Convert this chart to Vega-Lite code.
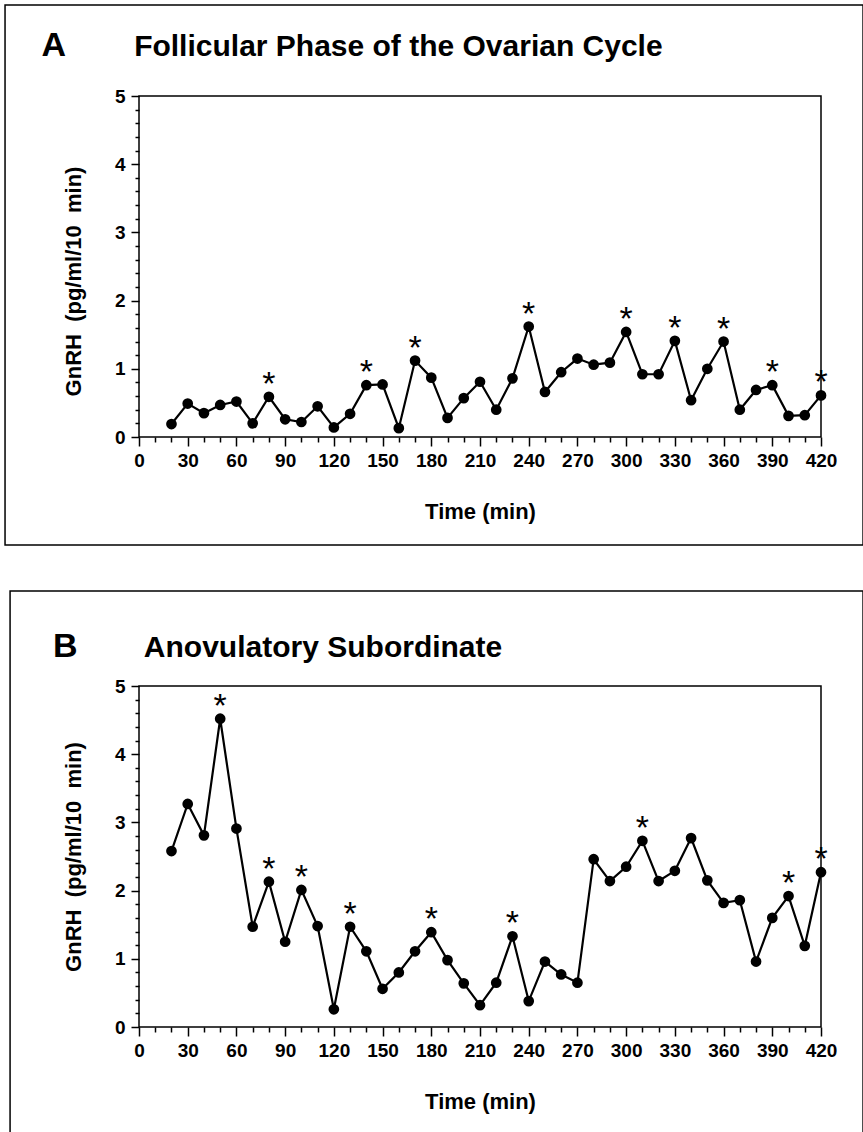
{
  "$schema": "https://vega.github.io/schema/vega-lite/v6.json",
  "padding": {"left": 3, "top": 3, "right": 0, "bottom": 0},
  "spacing": 42,
  "config": {
    "font": "Liberation Sans",
    "view": {"stroke": "black", "strokeWidth": 1.5},
    "axis": {
      "grid": false, "domain": false, "labelFlush": false, "labelOverlap": false,
      "labelFont": "Liberation Sans", "labelFontWeight": "bold", "labelColor": "black", "labelFontSize": 19,
      "titleFont": "Liberation Sans", "titleFontWeight": "bold", "titleColor": "black", "titleFontSize": 22,
      "tickColor": "black", "tickWidth": 1.5
    }
  },
  "datasets": {
    "follicular": [
      {"t": 20, "v": 0.19, "s": 0}, {"t": 30, "v": 0.49, "s": 0}, {"t": 40, "v": 0.35, "s": 0},
      {"t": 50, "v": 0.47, "s": 0}, {"t": 60, "v": 0.52, "s": 0}, {"t": 70, "v": 0.20, "s": 0},
      {"t": 80, "v": 0.59, "s": 1}, {"t": 90, "v": 0.26, "s": 0}, {"t": 100, "v": 0.22, "s": 0},
      {"t": 110, "v": 0.45, "s": 0}, {"t": 120, "v": 0.14, "s": 0}, {"t": 130, "v": 0.34, "s": 0},
      {"t": 140, "v": 0.76, "s": 1}, {"t": 150, "v": 0.77, "s": 0}, {"t": 160, "v": 0.13, "s": 0},
      {"t": 170, "v": 1.12, "s": 1}, {"t": 180, "v": 0.87, "s": 0}, {"t": 190, "v": 0.28, "s": 0},
      {"t": 200, "v": 0.57, "s": 0}, {"t": 210, "v": 0.81, "s": 0}, {"t": 220, "v": 0.40, "s": 0},
      {"t": 230, "v": 0.86, "s": 0}, {"t": 240, "v": 1.62, "s": 1}, {"t": 250, "v": 0.66, "s": 0},
      {"t": 260, "v": 0.95, "s": 0}, {"t": 270, "v": 1.15, "s": 0}, {"t": 280, "v": 1.06, "s": 0},
      {"t": 290, "v": 1.09, "s": 0}, {"t": 300, "v": 1.54, "s": 1}, {"t": 310, "v": 0.92, "s": 0},
      {"t": 320, "v": 0.92, "s": 0}, {"t": 330, "v": 1.41, "s": 1}, {"t": 340, "v": 0.54, "s": 0},
      {"t": 350, "v": 1.00, "s": 0}, {"t": 360, "v": 1.40, "s": 1}, {"t": 370, "v": 0.40, "s": 0},
      {"t": 380, "v": 0.69, "s": 0}, {"t": 390, "v": 0.76, "s": 1}, {"t": 400, "v": 0.31, "s": 0},
      {"t": 410, "v": 0.32, "s": 0}, {"t": 420, "v": 0.61, "s": 1}
    ],
    "anovulatory": [
      {"t": 20, "v": 2.58, "s": 0}, {"t": 30, "v": 3.27, "s": 0}, {"t": 40, "v": 2.81, "s": 0},
      {"t": 50, "v": 4.52, "s": 1}, {"t": 60, "v": 2.91, "s": 0}, {"t": 70, "v": 1.47, "s": 0},
      {"t": 80, "v": 2.13, "s": 1}, {"t": 90, "v": 1.25, "s": 0}, {"t": 100, "v": 2.01, "s": 1},
      {"t": 110, "v": 1.48, "s": 0}, {"t": 120, "v": 0.26, "s": 0}, {"t": 130, "v": 1.47, "s": 1},
      {"t": 140, "v": 1.11, "s": 0}, {"t": 150, "v": 0.56, "s": 0}, {"t": 160, "v": 0.80, "s": 0},
      {"t": 170, "v": 1.11, "s": 0}, {"t": 180, "v": 1.39, "s": 1}, {"t": 190, "v": 0.98, "s": 0},
      {"t": 200, "v": 0.64, "s": 0}, {"t": 210, "v": 0.32, "s": 0}, {"t": 220, "v": 0.65, "s": 0},
      {"t": 230, "v": 1.33, "s": 1}, {"t": 240, "v": 0.38, "s": 0}, {"t": 250, "v": 0.96, "s": 0},
      {"t": 260, "v": 0.77, "s": 0}, {"t": 270, "v": 0.65, "s": 0}, {"t": 280, "v": 2.46, "s": 0},
      {"t": 290, "v": 2.14, "s": 0}, {"t": 300, "v": 2.35, "s": 0}, {"t": 310, "v": 2.73, "s": 1},
      {"t": 320, "v": 2.14, "s": 0}, {"t": 330, "v": 2.29, "s": 0}, {"t": 340, "v": 2.77, "s": 0},
      {"t": 350, "v": 2.15, "s": 0}, {"t": 360, "v": 1.82, "s": 0}, {"t": 370, "v": 1.86, "s": 0},
      {"t": 380, "v": 0.96, "s": 0}, {"t": 390, "v": 1.60, "s": 0}, {"t": 400, "v": 1.92, "s": 1},
      {"t": 410, "v": 1.19, "s": 0}, {"t": 420, "v": 2.27, "s": 1}
    ]
  },
  "vconcat": [
    {
      "width": 682, "height": 341,
      "data": {"name": "follicular"},
      "layer": [
        {
          "data": {"values": [{}]},
          "mark": {"type": "rect", "fill": "transparent", "stroke": "black", "strokeWidth": 1.5, "clip": false},
          "encoding": {
            "x": {"datum": -82.5, "type": "quantitative", "scale": {"domain": [0, 420], "nice": false}, "axis": null},
            "x2": {"datum": 445.9},
            "y": {"datum": 6.334, "type": "quantitative", "scale": {"domain": [0, 5], "nice": false}, "axis": null},
            "y2": {"datum": -1.584}
          }
        },
        {
          "data": {"values": [{}]},
          "mark": {"type": "text", "text": "A", "align": "left", "baseline": "alphabetic", "fontSize": 34, "fontWeight": "bold", "color": "black", "clip": false},
          "encoding": {
            "x": {"datum": -60, "type": "quantitative", "scale": {"domain": [0, 420], "nice": false}, "axis": null},
            "y": {"datum": 5.59, "type": "quantitative", "scale": {"domain": [0, 5], "nice": false}, "axis": null}
          }
        },
        {
          "data": {"values": [{}]},
          "mark": {"type": "text", "text": "Follicular Phase of the Ovarian Cycle", "align": "left", "baseline": "alphabetic", "fontSize": 30, "fontWeight": "bold", "color": "black", "clip": false},
          "encoding": {
            "x": {"datum": -3, "type": "quantitative", "scale": {"domain": [0, 420], "nice": false}, "axis": null},
            "y": {"datum": 5.59, "type": "quantitative", "scale": {"domain": [0, 5], "nice": false}, "axis": null}
          }
        },
        {
          "mark": {"type": "line", "color": "black", "strokeWidth": 2.2},
          "encoding": {
            "x": {"field": "t", "type": "quantitative", "scale": {"domain": [0, 420], "nice": false},
              "axis": {"orient": "bottom", "values": [0, 30, 60, 90, 120, 150, 180, 210, 240, 270, 300, 330, 360, 390, 420], "tickSize": 9, "labelPadding": 5, "title": "Time (min)", "titlePadding": 31}},
            "y": {"field": "v", "type": "quantitative", "scale": {"domain": [0, 5], "nice": false},
              "axis": {"orient": "left", "values": [0, 1, 2, 3, 4, 5], "tickSize": 8, "labelPadding": 6, "title": "GnRH\u00a0\u00a0(pg/ml/10\u00a0\u00a0min)", "titlePadding": 29, "titleY": 185}}
          }
        },
        {
          "mark": {"type": "point", "shape": "circle", "filled": true, "color": "black", "opacity": 1, "size": 115},
          "encoding": {
            "x": {"field": "t", "type": "quantitative", "scale": {"domain": [0, 420], "nice": false},
              "axis": {"orient": "bottom", "values": [10, 20, 40, 50, 70, 80, 100, 110, 130, 140, 160, 170, 190, 200, 220, 230, 250, 260, 280, 290, 310, 320, 340, 350, 370, 380, 400, 410], "tickSize": 5, "labels": false, "title": null}},
            "y": {"field": "v", "type": "quantitative", "scale": {"domain": [0, 5], "nice": false},
              "axis": {"orient": "left", "values": [0.2, 0.4, 0.6, 0.8, 1.2, 1.4, 1.6, 1.8, 2.2, 2.4, 2.6, 2.8, 3.2, 3.4, 3.6, 3.8, 4.2, 4.4, 4.6, 4.8], "tickSize": 4, "labels": false, "title": null}}
          }
        },
        {
          "transform": [{"filter": "datum.s == 1"}],
          "mark": {"type": "text", "text": "*", "fontSize": 34, "color": "black", "baseline": "alphabetic", "dy": -2, "clip": false},
          "encoding": {
            "x": {"field": "t", "type": "quantitative", "scale": {"domain": [0, 420], "nice": false}, "axis": null},
            "y": {"field": "v", "type": "quantitative", "scale": {"domain": [0, 5], "nice": false}, "axis": null}
          }
        }
      ],
      "resolve": {"axis": {"x": "independent", "y": "independent"}}
    },
    {
      "width": 682, "height": 341,
      "data": {"name": "anovulatory"},
      "layer": [
        {
          "data": {"values": [{}]},
          "mark": {"type": "rect", "fill": "transparent", "stroke": "black", "strokeWidth": 1.5, "clip": false},
          "encoding": {
            "x": {"datum": -79.4, "type": "quantitative", "scale": {"domain": [0, 420], "nice": false}, "axis": null},
            "x2": {"datum": 445.9},
            "y": {"datum": 6.393, "type": "quantitative", "scale": {"domain": [0, 5], "nice": false}, "axis": null},
            "y2": {"datum": -1.569}
          }
        },
        {
          "data": {"values": [{}]},
          "mark": {"type": "text", "text": "B", "align": "left", "baseline": "alphabetic", "fontSize": 34, "fontWeight": "bold", "color": "black", "clip": false},
          "encoding": {
            "x": {"datum": -53, "type": "quantitative", "scale": {"domain": [0, 420], "nice": false}, "axis": null},
            "y": {"datum": 5.42, "type": "quantitative", "scale": {"domain": [0, 5], "nice": false}, "axis": null}
          }
        },
        {
          "data": {"values": [{}]},
          "mark": {"type": "text", "text": "Anovulatory Subordinate", "align": "left", "baseline": "alphabetic", "fontSize": 30, "fontWeight": "bold", "color": "black", "clip": false},
          "encoding": {
            "x": {"datum": 3, "type": "quantitative", "scale": {"domain": [0, 420], "nice": false}, "axis": null},
            "y": {"datum": 5.42, "type": "quantitative", "scale": {"domain": [0, 5], "nice": false}, "axis": null}
          }
        },
        {
          "mark": {"type": "line", "color": "black", "strokeWidth": 2.2},
          "encoding": {
            "x": {"field": "t", "type": "quantitative", "scale": {"domain": [0, 420], "nice": false},
              "axis": {"orient": "bottom", "values": [0, 30, 60, 90, 120, 150, 180, 210, 240, 270, 300, 330, 360, 390, 420], "tickSize": 9, "labelPadding": 5, "title": "Time (min)", "titlePadding": 31}},
            "y": {"field": "v", "type": "quantitative", "scale": {"domain": [0, 5], "nice": false},
              "axis": {"orient": "left", "values": [0, 1, 2, 3, 4, 5], "tickSize": 8, "labelPadding": 6, "title": "GnRH\u00a0\u00a0(pg/ml/10\u00a0\u00a0min)", "titlePadding": 29}}
          }
        },
        {
          "mark": {"type": "point", "shape": "circle", "filled": true, "color": "black", "opacity": 1, "size": 115},
          "encoding": {
            "x": {"field": "t", "type": "quantitative", "scale": {"domain": [0, 420], "nice": false},
              "axis": {"orient": "bottom", "values": [10, 20, 40, 50, 70, 80, 100, 110, 130, 140, 160, 170, 190, 200, 220, 230, 250, 260, 280, 290, 310, 320, 340, 350, 370, 380, 400, 410], "tickSize": 5, "labels": false, "title": null}},
            "y": {"field": "v", "type": "quantitative", "scale": {"domain": [0, 5], "nice": false},
              "axis": {"orient": "left", "values": [0.2, 0.4, 0.6, 0.8, 1.2, 1.4, 1.6, 1.8, 2.2, 2.4, 2.6, 2.8, 3.2, 3.4, 3.6, 3.8, 4.2, 4.4, 4.6, 4.8], "tickSize": 4, "labels": false, "title": null}}
          }
        },
        {
          "transform": [{"filter": "datum.s == 1"}],
          "mark": {"type": "text", "text": "*", "fontSize": 34, "color": "black", "baseline": "alphabetic", "dy": -2, "clip": false},
          "encoding": {
            "x": {"field": "t", "type": "quantitative", "scale": {"domain": [0, 420], "nice": false}, "axis": null},
            "y": {"field": "v", "type": "quantitative", "scale": {"domain": [0, 5], "nice": false}, "axis": null}
          }
        }
      ],
      "resolve": {"axis": {"x": "independent", "y": "independent"}}
    }
  ]
}
